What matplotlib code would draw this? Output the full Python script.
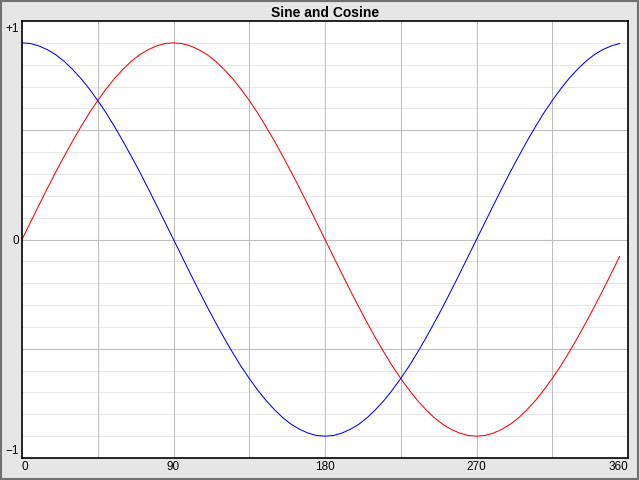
#!/usr/bin/env python3
# -*- coding: utf-8 -*-
"""
Sine and Cosine chart, drawn in the style of an old-school plot widget.
"""

import numpy as np
import matplotlib
matplotlib.use("Agg")
import matplotlib.pyplot as plt
from matplotlib.patches import Rectangle
from matplotlib.transforms import ScaledTranslation

# angles in degrees, one sample every 5 degrees
angles = list(range(0, 360, 5))

# values (amplitude about 0.9)
sine_values = [
    0.000, 0.078, 0.156, 0.233, 0.308, 0.380, 0.450, 0.516, 0.579, 0.636,
    0.689, 0.737, 0.779, 0.816, 0.846, 0.869, 0.886, 0.897, 0.900, 0.897,
    0.886, 0.869, 0.846, 0.816, 0.779, 0.737, 0.689, 0.636, 0.579, 0.516,
    0.450, 0.380, 0.308, 0.233, 0.156, 0.078, 0.000, -0.078, -0.156, -0.233,
    -0.308, -0.380, -0.450, -0.516, -0.579, -0.636, -0.689, -0.737, -0.779, -0.816,
    -0.846, -0.869, -0.886, -0.897, -0.900, -0.897, -0.886, -0.869, -0.846, -0.816,
    -0.779, -0.737, -0.689, -0.636, -0.579, -0.516, -0.450, -0.380, -0.308, -0.233,
    -0.156, -0.078,
]
cosine_values = [
    0.900, 0.897, 0.886, 0.869, 0.846, 0.816, 0.779, 0.737, 0.689, 0.636,
    0.579, 0.516, 0.450, 0.380, 0.308, 0.233, 0.156, 0.078, 0.000, -0.078,
    -0.156, -0.233, -0.308, -0.380, -0.450, -0.516, -0.579, -0.636, -0.689, -0.737,
    -0.779, -0.816, -0.846, -0.869, -0.886, -0.897, -0.900, -0.897, -0.886, -0.869,
    -0.846, -0.816, -0.779, -0.737, -0.689, -0.636, -0.579, -0.516, -0.450, -0.380,
    -0.308, -0.233, -0.156, -0.078, 0.000, 0.078, 0.156, 0.233, 0.308, 0.380,
    0.450, 0.516, 0.579, 0.636, 0.689, 0.737, 0.779, 0.816, 0.846, 0.869,
    0.886, 0.897,
]

x_ticks = [0, 90, 180, 270, 360]
x_tick_labels = ["0", "90", "180", "270", "360"]
y_ticks = [-1, 0, 1]
y_tick_labels = ["\u22121", "0", "+1"]

title = "Sine and Cosine"


def main():
    plt.rcParams['font.family'] = ['Liberation Sans', 'DejaVu Sans']

    fig = plt.figure(figsize=(6.4, 4.8), dpi=100, facecolor="#e6e6e6")

    # bevel-ish frame around the whole widget
    fig.patches.append(Rectangle((0.001, 0.002), 0.996, 0.996, transform=fig.transFigure,
                                 fill=False, edgecolor="#707070", linewidth=1.5))

    ax = fig.add_axes([22 / 640, 1 - 458 / 480, 606 / 640, 437 / 480])
    ax.set_facecolor("white")

    # grid: light every 0.1, darker every 0.5 and every 45 degrees
    for yv in np.arange(-0.9, 0.95, 0.1):
        ax.axhline(yv, color="#e8e8e8", linewidth=0.75, zorder=0)
    for yv in [-0.5, 0, 0.5]:
        ax.axhline(yv, color="#bebebe", linewidth=0.75, zorder=0.5)
    for xv in range(45, 360, 45):
        ax.axvline(xv, color="#bebebe", linewidth=0.75, zorder=0.5)

    ax.plot(angles, sine_values, color="red", linewidth=0.75)
    ax.plot(angles, cosine_values, color="blue", linewidth=0.75)

    ax.set_xlim(0, 360)
    ax.set_ylim(-1, 1)

    ax.set_xticks(x_ticks)
    ax.set_xticklabels(x_tick_labels)
    ax.set_yticks(y_ticks)
    ax.set_yticklabels(y_tick_labels)
    ax.tick_params(length=0, labelsize=8.5, pad=2)

    xl = ax.get_xticklabels()
    xl[0].set_horizontalalignment("left")
    xl[-1].set_horizontalalignment("right")
    yl = ax.get_yticklabels()
    yl[0].set_verticalalignment("bottom")
    yl[-1].set_verticalalignment("top")
    # nudge the end labels a little inwards, as in the original widget
    yl[-1].set_transform(yl[-1].get_transform() + ScaledTranslation(0, -2 / 100, fig.dpi_scale_trans))
    yl[0].set_transform(yl[0].get_transform() + ScaledTranslation(0, 1 / 100, fig.dpi_scale_trans))

    for s in ax.spines.values():
        s.set_color("black")
        s.set_linewidth(1.2)

    ax.set_title(title, fontsize=10, fontweight="bold", pad=3)

    fig.savefig("out.png", dpi=100, facecolor=fig.get_facecolor())


if __name__ == "__main__":
    main()
